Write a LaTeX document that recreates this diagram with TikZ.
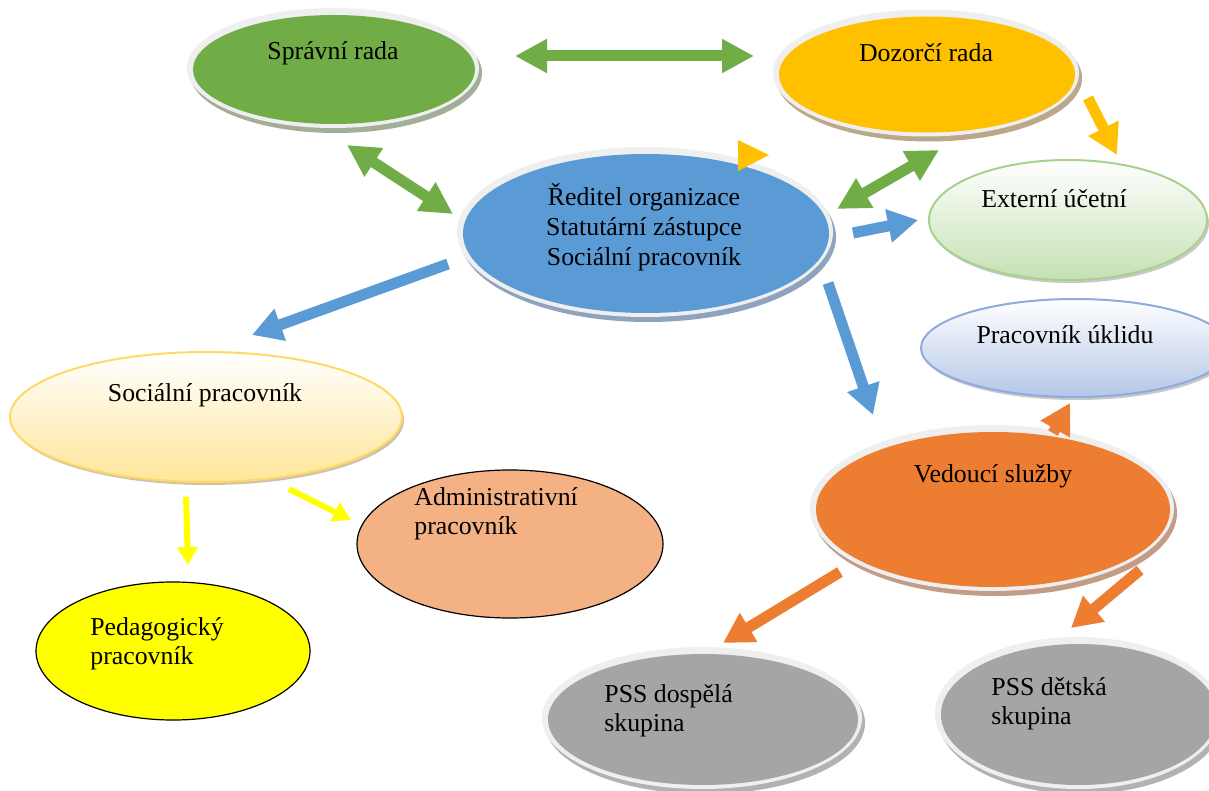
\documentclass[tikz,border=0pt]{standalone}
\usepackage{fontspec}
\setmainfont{Liberation Serif}
\usetikzlibrary{arrows.meta,shapes.geometric,calc}
\definecolor{cgreen}{HTML}{70AD47}
\definecolor{cgold}{HTML}{FFC000}
\definecolor{cblue}{HTML}{5B9BD5}
\definecolor{corange}{HTML}{ED7D31}
\definecolor{cgrey}{HTML}{A5A5A5}
\definecolor{cadmin}{HTML}{F4B183}
\definecolor{cyellow}{HTML}{FFFF00}
\definecolor{rimgrey}{HTML}{EFEFEF}
\definecolor{shgreen}{HTML}{A3AE98}
\definecolor{shgold}{HTML}{BBA88A}
\definecolor{shblue}{HTML}{8FA3BE}
\definecolor{shorange}{HTML}{C39C86}
\definecolor{shgrey}{HTML}{B2B2B2}
\definecolor{extbot}{HTML}{C5E0B4}
\definecolor{extline}{HTML}{A9D18E}
\definecolor{ukbot}{HTML}{B4C7E7}
\definecolor{ukline}{HTML}{8FAADC}
\definecolor{socbot}{HTML}{FFE699}
\definecolor{socline}{HTML}{FFD966}
\definecolor{softsh}{HTML}{C8C8C8}
\newcommand\rimell[7]{% name, cx, cy, outer width (pt), outer height (pt), fill, shadow
  \node[ell, fill=#7, minimum width=#4pt, minimum height=#5pt] (#1-sh) at ($(#2,#3)+(3,5)$) {};
  \node[ell, fill=rimgrey, minimum width=#4pt, minimum height=#5pt] (#1-rim) at (#2,#3) {};
  \node[ell, fill=#6, minimum width=#4pt-5pt, minimum height=#5pt-5.5pt] (#1) at ($(#2,#3)+(1,1.5)$) {};
}
\begin{document}
\begin{tikzpicture}[x=0.5pt,y=-0.5pt,
  font=\fontsize{12.9}{14.5}\selectfont,
  ell/.style={ellipse, inner sep=0pt, outer sep=0pt},
  txt/.style={inner sep=0pt, anchor=base},
  txtl/.style={inner sep=0pt, anchor=base west, align=left},
  gradell/.style={ell, line width=1pt},
  dbl/.style={line width=5.5pt, arrows={Triangle[length=16pt,width=16pt]-Triangle[length=16pt,width=16pt]}},
  blk/.style={line width=5.5pt, arrows={-Triangle[length=15pt,width=16pt]}},
  thin/.style={line width=3pt, arrows={-Triangle[length=9pt,width=10pt]}}
]
\useasboundingbox (0,0) rectangle (1209,791);
\clip (0,0) rectangle (1209,791);

% 3D rimmed ellipses
\rimell{spr}{333}{68}{146}{60}{cgreen}{shgreen}
\rimell{doz}{926}{73}{153}{63.5}{cgold}{shgold}
\rimell{red}{645}{232}{188}{85}{cblue}{shblue}
\rimell{ved}{992}{508}{182}{83}{corange}{shorange}
\rimell{dosp}{702}{718}{160}{71}{cgrey}{shgrey}
\rimell{det}{1078}{713}{143}{76}{cgrey}{shgrey}

% gradient ellipses
\node[ell, fill=softsh, minimum width=139pt, minimum height=60pt] (ext-sh) at (1070,223) {};
\node[gradell, draw=extline, top color=white, bottom color=extbot, minimum width=139pt, minimum height=60pt] (ext) at (1068,220) {};
\node[ell, fill=softsh, minimum width=154pt, minimum height=49pt] (ukl-sh) at (1077,351) {};
\node[gradell, draw=ukline, top color=white, bottom color=ukbot, minimum width=154pt, minimum height=49pt] (ukl) at (1075,348) {};
\node[ell, fill=shgold!70, minimum width=196pt, minimum height=65pt] (soc-sh) at (208,420) {};
\node[gradell, draw=socline, top color=white, bottom color=socbot, minimum width=196pt, minimum height=65pt] (soc) at (206,417) {};

% flat ellipses
\node[ell, draw=black, line width=0.6pt, fill=cadmin, minimum width=153pt, minimum height=74pt] (adm) at (510,544) {};
\node[ell, draw=black, line width=0.6pt, fill=cyellow, minimum width=137pt, minimum height=69pt] (ped) at (173,651) {};

% texts (multi-line nodes are anchored at the baseline of their last line)
\node[txt] (t-spr) at (333,60) {Správní rada};
\node[txt] (t-doz) at (926,62) {Dozorčí rada};
\node[txt, align=center] (t-red) at (644,265) {Ředitel organizace\\[0.3pt]Statutární zástupce\\[0.3pt]Sociální pracovník};
\node[txt] (t-ext) at (1054,208) {Externí účetní};
\node[txt] (t-ukl) at (1065,343) {Pracovník úklidu};
\node[txt] (t-soc) at (205,401) {Sociální pracovník};
\node[txt] (t-ved) at (993,482) {Vedoucí služby};
\node[txtl] (t-adm) at (414,534) {Administrativní\\pracovník};
\node[txtl] (t-ped) at (90,664) {Pedagogický\\pracovník};
\node[txtl] (t-dosp) at (604,731) {PSS dospělá\\skupina};
\node[txtl] (t-det) at (991,724) {PSS dětská\\skupina};

% arrow end points
\coordinate (g1a) at (515,56);   \coordinate (g1b) at (754,56);
\coordinate (g2a) at (347,145);  \coordinate (g2b) at (453,214);
\coordinate (g3a) at (837,209);  \coordinate (g3b) at (939,150);
\coordinate (b1a) at (448,264);  \coordinate (b1b) at (252,335);
\coordinate (b2a) at (853,233);  \coordinate (b2b) at (918,220);
\coordinate (b3a) at (828,283);  \coordinate (b3b) at (873,415);
\coordinate (o1a) at (1088,98);  \coordinate (o1b) at (1117,155);
\coordinate (y1a) at (186,497);  \coordinate (y1b) at (188,565);
\coordinate (y2a) at (289,489);  \coordinate (y2b) at (351,520);
\coordinate (r1a) at (1053,433); \coordinate (r1b) at (1070,403);
\coordinate (r2a) at (840,572);  \coordinate (r2b) at (723,643);
\coordinate (r3a) at (1140,570); \coordinate (r3b) at (1071,628);

% arrows
\draw[dbl, cgreen] (g1a) -- (g1b);
\draw[dbl, cgreen] (g2a) -- (g2b);
\draw[dbl, cgreen] (g3a) -- (g3b);
\draw[blk, cblue] (b1a) -- (b1b);
\draw[blk, cblue] (b2a) -- (b2b);
\draw[blk, cblue] (b3a) -- (b3b);
\draw[blk, cgold] (o1a) -- (o1b);
\draw[thin, cyellow] (y1a) -- (y1b);
\draw[thin, cyellow] (y2a) -- (y2b);
\draw[blk, corange] (r1a) -- (r1b);
\draw[blk, corange] (r2a) -- (r2b);
\draw[blk, corange] (r3a) -- (r3b);
\fill[cgold] (738,140) -- (738,171) -- (769,155) -- cycle;
\end{tikzpicture}
\end{document}
